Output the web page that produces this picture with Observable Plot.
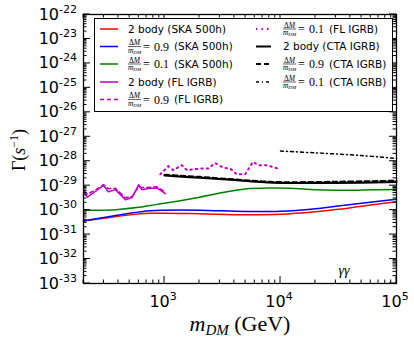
<!DOCTYPE html>
<html><head><meta charset="utf-8">
<script src="https://cdn.jsdelivr.net/npm/d3@7"></script>
<script src="https://cdn.jsdelivr.net/npm/@observablehq/plot@0.6"></script>
<style>body{margin:0;background:#fff}svg{display:block}</style>
</head><body><div id="chart"></div>
<script>
// ---- data (m_DM in GeV, Gamma in s^-1) ----
const skaMass = [200, 300, 500, 750, 1000, 2000, 5000, 10000, 20000, 30000, 50000, 100000];
const red2body = [3.6e-31, 4.7e-31, 6.4e-31, 7.4e-31, 7.5e-31, 7.1e-31, 6.5e-31, 6.8e-31, 8.6e-31, 1.05e-30, 1.45e-30, 2.2e-30];
const blue09 = [3.6e-31, 5.0e-31, 7.5e-31, 9.5e-31, 1.0e-30, 1.0e-30, 8.8e-31, 9.0e-31, 1.15e-30, 1.45e-30, 1.9e-30, 2.8e-30];
const greenMass = [200, 300, 400, 600, 750, 1000, 2000, 3000, 5000, 8000, 12000, 20000, 30000, 50000, 100000];
const green01 = [9.8e-31, 1.0e-30, 1.07e-30, 1.3e-30, 1.55e-30, 1.9e-30, 3.4e-30, 5.0e-30, 7.3e-30, 8.0e-30, 7.8e-30, 6.8e-30, 6.5e-30, 6.6e-30, 7.0e-30];
const flMass = [203, 216, 259, 297, 328, 377, 459, 525, 598, 639, 724, 860, 1014];
const fl2body = [5.4e-30, 3.4e-30, 6.2e-30, 1.04e-29, 5.6e-30, 6.9e-30, 2.65e-30, 3.3e-30, 1.09e-29, 6.8e-30, 7.6e-30, 8.1e-30, 4.7e-30];
const fl09 = [6.0e-30, 4.5e-30, 7.0e-30, 1.1e-29, 7.5e-30, 7.8e-30, 3.2e-30, 3.6e-30, 9.0e-30, 8.5e-30, 8.5e-30, 9.0e-30, 5.5e-30];
const fl01Mass = [918, 1077, 1188, 1410, 1560, 2030, 2380, 2730, 3200, 3680, 4200, 4950, 5790, 6400, 7600, 9500];
const fl01 = [2.9e-29, 6.3e-29, 4.3e-29, 6.9e-29, 4.3e-29, 5.0e-29, 5.0e-29, 8.5e-29, 5.5e-29, 5.0e-29, 2.9e-29, 2.9e-29, 9.4e-29, 6.9e-29, 6.9e-29, 5.0e-29];
const ctaMass = [1000, 2000, 4000, 7000, 10000, 30000, 100000];
const cta2body = [2.6e-29, 2.1e-29, 1.7e-29, 1.4e-29, 1.3e-29, 1.3e-29, 1.4e-29];
const cta09 = [2.8e-29, 2.3e-29, 1.8e-29, 1.5e-29, 1.4e-29, 1.45e-29, 1.6e-29];
const cta01Mass = [10000, 20000, 50000, 100000];
const cta01 = [2.6e-28, 2.2e-28, 1.7e-28, 1.3e-28];
const xTickExps = [3, 4, 5];
const yTickExps = [-33, -32, -31, -30, -29, -28, -27, -26, -25, -24, -23, -22];

const pts = (xs, ys) => xs.map((m, i) => ({m, g: ys[i]}));

const series = [
  {d: pts(skaMass, red2body), stroke: "#ff0000", w: 1.5, dash: null, curve: "catmull-rom"},
  {d: pts(skaMass, blue09), stroke: "#0000ff", w: 1.5, dash: null, curve: "catmull-rom"},
  {d: pts(greenMass, green01), stroke: "#008000", w: 1.5, dash: null, curve: "catmull-rom"},
  {d: pts(flMass, fl2body), stroke: "#bf00bf", w: 1.5, dash: null, curve: "linear"},
  {d: pts(flMass, fl09), stroke: "#bf00bf", w: 1.5, dash: "4,3", curve: "linear"},
  {d: pts(fl01Mass, fl01), stroke: "#bf00bf", w: 2, dash: "1.5,4", curve: "linear"},
  {d: pts(ctaMass, cta2body), stroke: "#000", w: 2, dash: null, curve: "catmull-rom"},
  {d: pts(ctaMass, cta09), stroke: "#000", w: 2, dash: "5,3", curve: "catmull-rom"},
  {d: pts(cta01Mass, cta01), stroke: "#000", w: 1.5, dash: "3,3,1,3", curve: "catmull-rom"}
];

const plot = Plot.plot({
  width: 414, height: 338,
  marginLeft: 83, marginRight: 18, marginTop: 14, marginBottom: 55,
  x: {type: "log", domain: [200, 1e5], axis: null},
  y: {type: "log", domain: [1e-33, 1e-22], axis: null},
  marks: [
    ...series.map(s => Plot.line(s.d, {x: "m", y: "g", stroke: s.stroke, strokeWidth: s.w,
      strokeDasharray: s.dash, curve: s.curve})),
    Plot.frame({stroke: "#000", strokeWidth: 1.3})
  ]
});

const svg = d3.select(plot);
svg.style("font-family", "'DejaVu Sans', sans-serif");
const xs = plot.scale("x"), ys = plot.scale("y");
const X = v => xs.apply(v), Y = v => ys.apply(v);
const L = X(200), R = X(1e5), T = Y(1e-22), B = Y(1e-33);
const g = svg.append("g").attr("stroke", "#000").attr("stroke-width", 1);

// x ticks (inward, bottom & top)
for (let e = 2; e <= 5; e++) {
  for (let k = 1; k <= 9; k++) {
    const v = k * Math.pow(10, e);
    if (v < 200 || v > 1e5) continue;
    const px = X(v), len = k === 1 ? 7 : 3.5;
    g.append("line").attr("x1", px).attr("x2", px).attr("y1", B).attr("y2", B - len);
    g.append("line").attr("x1", px).attr("x2", px).attr("y1", T).attr("y2", T + len);
  }
}
// y ticks (inward, left & right)
for (let e = -33; e <= -22; e++) {
  for (let k = 1; k <= 9; k++) {
    const v = k * Math.pow(10, e);
    if (v < 1e-33 * 0.999 || v > 1e-22 * 1.001) continue;
    const py = Y(v), len = k === 1 ? 7 : 3.5;
    g.append("line").attr("y1", py).attr("y2", py).attr("x1", L).attr("x2", L + len);
    g.append("line").attr("y1", py).attr("y2", py).attr("x1", R).attr("x2", R - len);
  }
}
// y tick labels
yTickExps.forEach(e => {
  const t = svg.append("text").attr("x", 77).attr("y", Y(Math.pow(10, e)) + 5.5)
    .attr("text-anchor", "end").attr("font-size", 16).attr("fill", "#000");
  t.append("tspan").text("10");
  t.append("tspan").attr("dy", -7).attr("font-size", 11).text(String(e));
});
// x tick labels
xTickExps.forEach(e => {
  const t = svg.append("text").attr("x", X(Math.pow(10, e)) - 1).attr("y", 306.5)
    .attr("text-anchor", "middle").attr("font-size", 16).attr("fill", "#000");
  t.append("tspan").text("10");
  t.append("tspan").attr("dy", -7).attr("font-size", 11).text(String(e));
});
// axis titles
const serif = "'Liberation Serif', 'DejaVu Serif', serif";
const xl = svg.append("text").attr("x", 240).attr("y", 331).attr("text-anchor", "middle")
  .attr("font-family", serif).attr("font-size", 22).attr("fill", "#000");
xl.append("tspan").attr("font-style", "italic").text("m");
xl.append("tspan").attr("font-style", "italic").attr("font-size", 15).attr("dy", 4).text("DM");
xl.append("tspan").attr("dy", -4).text(" (GeV)");
const yl = svg.append("text").attr("transform", "translate(25,150) rotate(-90)").attr("text-anchor", "middle")
  .attr("font-family", serif).attr("font-size", 18).attr("fill", "#000");
yl.append("tspan").text("Γ(");
yl.append("tspan").attr("font-style", "italic").text("s");
yl.append("tspan").attr("font-size", 12).attr("dy", -7).text("−1");
yl.append("tspan").attr("dy", 7).text(")");
// gamma gamma label
svg.append("text").attr("x", 344).attr("y", 275).attr("text-anchor", "middle")
  .attr("font-family", serif).attr("font-style", "italic").attr("font-size", 14).attr("fill", "#000").text("γγ");

// legend
const leg = svg.append("g").attr("text-anchor", "start");
leg.append("rect").attr("x", 94.5).attr("y", 18.5).attr("width", 298).attr("height", 93)
  .attr("fill", "#fff").attr("stroke", "#000").attr("stroke-width", 1);
const rows = [29, 46.5, 64, 82, 99.5];
const entries = [
  {col: 0, row: 0, s: series[0], frac: null, text: "2 body (SKA 500h)"},
  {col: 0, row: 1, s: series[1], frac: "0.9", text: "(SKA 500h)"},
  {col: 0, row: 2, s: series[2], frac: "0.1", text: "(SKA 500h)"},
  {col: 0, row: 3, s: series[3], frac: null, text: "2 body (FL IGRB)"},
  {col: 0, row: 4, s: series[4], frac: "0.9", text: "(FL IGRB)"},
  {col: 1, row: 0, s: series[5], frac: "0.1", text: "(FL IGRB)"},
  {col: 1, row: 1, s: series[6], frac: null, text: "2 body (CTA IGRB)"},
  {col: 1, row: 2, s: series[7], frac: "0.9", text: "(CTA IGRB)"},
  {col: 1, row: 3, s: series[8], frac: "0.1", text: "(CTA IGRB)"}
];
entries.forEach(en => {
  const y = rows[en.row];
  const lx0 = en.col === 0 ? 100 : 256, lx1 = en.col === 0 ? 118 : 271;
  const x = en.col === 0 ? 128 : 283;
  leg.append("line").attr("x1", lx0).attr("x2", lx1).attr("y1", y).attr("y2", y)
    .attr("stroke", en.s.stroke).attr("stroke-width", en.s.w).attr("stroke-dasharray", en.s.dash);
  if (en.frac) {
    leg.append("text").attr("x", x + 6.5).attr("y", y - 1.5).attr("text-anchor", "middle")
      .attr("font-family", serif).attr("font-size", 7.5).attr("fill", "#000")
      .html('Δ<tspan font-style="italic">M</tspan>');
    leg.append("line").attr("x1", x).attr("x2", x + 13).attr("y1", y).attr("y2", y)
      .attr("stroke", "#000").attr("stroke-width", 0.6);
    const dn = leg.append("text").attr("x", x + 6.5).attr("y", y + 6).attr("text-anchor", "middle")
      .attr("font-family", serif).attr("font-style", "italic").attr("font-size", 7.5).attr("fill", "#000");
    dn.append("tspan").text("m");
    dn.append("tspan").attr("font-size", 5).attr("dy", 1).text("DM");
    leg.append("text").attr("x", x + 15).attr("y", y + 4).attr("text-anchor", "start")
      .attr("font-family", serif).attr("font-size", 12).attr("fill", "#000").text("=");
    leg.append("text").attr("x", x + 26).attr("y", y + 4).attr("text-anchor", "start")
      .attr("font-family", serif).attr("font-size", 12).attr("fill", "#000").text(en.frac);
    leg.append("text").attr("x", x + 46).attr("y", y + 3.5).attr("text-anchor", "start")
      .attr("font-size", 10.5).attr("fill", "#000").text(en.text);
  } else {
    leg.append("text").attr("x", x).attr("y", y + 3.5).attr("text-anchor", "start")
      .attr("font-size", 10.5).attr("fill", "#000").text(en.text);
  }
});

document.getElementById("chart").appendChild(plot);
</script>
</body></html>
